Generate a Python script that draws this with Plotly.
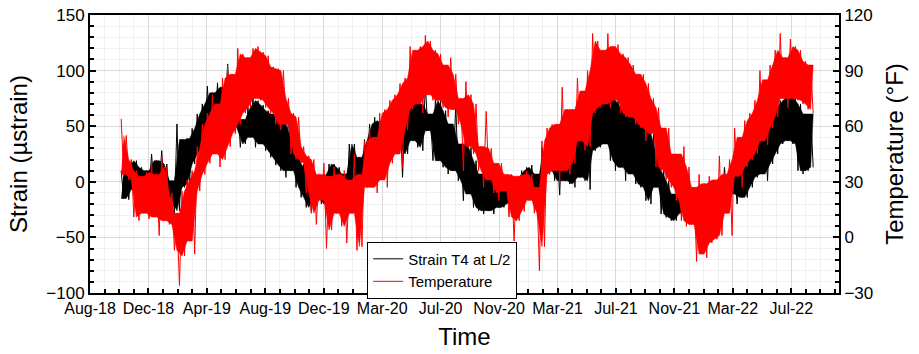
import pandas as pd
import plotly.graph_objects as go

# Record window of the gauge data
START, END = "2018-10-11", "2022-09-01"

# Temperature (°F): upper and lower swing in each ~10-day block
temp_hi = [64, 55, 42, 36, 33, 35, 41, 34, 44, 38, 24, 13, 25, 31, 36, 49, 61, 67, 77, 72,
           86, 93, 88, 102, 99, 97, 102, 103, 100, 98, 92,
           91, 90, 75, 67, 65, 49, 44, 42, 34, 40, 33, 38, 34, 36, 31, 45, 34, 52, 59, 54,
           67, 69, 74, 77, 83, 86, 103, 101, 103, 109, 106, 101, 99, 93, 97, 88, 75,
           84, 77, 72, 49, 68, 48, 40, 40, 34, 34, 33, 34, 36, 34, 27, 52, 59, 61, 61, 81,
           69, 69, 86, 79, 90, 110, 106, 101, 110, 103, 104, 99, 97, 93, 88, 88, 83,
           75, 70, 59, 59, 45, 45, 49, 38, 27, 34, 29, 33, 31, 44, 34, 42, 59, 54, 63, 67,
           74, 90, 85, 93, 101, 110, 97, 107, 103, 101, 95, 93]
temp_lo = [34, 31, 11, 9, 13, 10, 11, 1, 9, 7, -7, -26, -10, -2, -9, 25, 34, 40, 45, 38,
           42, 49, 56, 61, 67, 70, 75, 74, 70, 67, 61,
           58, 61, 45, 42, 40, 24, 13, 7, 20, -6, 4, 13, 6, -3, 13, -7, -5, 27, 27, 24,
           31, 27, 40, 45, 38, 58, 69, 72, 67, 77, 74, 74, 70, 65, 69, 61, 36,
           49, 45, 36, 27, 31, 24, 20, 25, 11, -2, 9, 14, 20, 13, -18, -5, 34, 36, 30, 36,
           34, 40, 52, 47, 49, 67, 70, 72, 70, 74, 67, 65, 65, 61, 59, 52, 56,
           38, 36, 31, 27, 20, 9, 6, 7, -13, -9, -11, -3, -1, 1, 13, 1, 33, 27, 38, 42,
           45, 52, 50, 59, 65, 75, 70, 75, 74, 72, 69, 67]

# Strain T4 at L/2 (µstrain): upper and lower swing in each block
strain_hi = [10, 13, 19, 19, 13, 10, 25, 19, 28, 16, 1, 52, 38, 39, 48, 61, 70, 86, 80, 89,
             85, 106, 79, 73, 56, 67, 76, 73, 69, 64, 61,
             61, 52, 61, 38, 31, 16, 10, 10, 1, 7, 16, 16, 13, 7, 34, 34, 22, 38, 52, 58,
             55, 52, 55, 52, 64, 64, 73, 76, 70, 88, 61, 76, 73, 64, 52, 70, 34,
             52, 31, 19, 7, 13, 22, 1, 4, -2, 1, 4, 10, 13, 15, 7, 31, 38, 40, 31, 52,
             25, 49, 61, 64, 70, 88, 79, 76, 76, 79, 73, 67, 64, 61, 61, 55, 52,
             43, 25, 10, 1, -11, -8, -5, -5, -11, -8, -5, -5, -5, 1, 13, 7, 7, 10, 16, 25,
             31, 52, 49, 58, 67, 73, 76, 79, 76, 70, 61, 61]
strain_lo = [-15, -16, -7, -5, -5, -7, -7, -5, -10, -17, -29, -26, -5, -2, 16, 25, 31, 45, 45, 50,
             61, 60, 46, 31, 34, 40, 31, 34, 28, 22, 15,
             10, 4, 10, -5, -14, -23, -26, -14, -20, -23, -17, -2, -5, -20, -11, -5, 1, 7, 13, 25,
             22, 16, 25, 31, 4, 25, 37, 31, 28, 46, 19, 19, 13, 7, 10, 1, -17,
             -11, -23, -26, -29, -26, -29, -23, -23, -20, -17, -17, -11, -11, -17, -23, -11, 10, 1, -12, 1,
             -2, -5, 4, 1, -7, 28, 31, 34, 19, 10, 13, 1, 7, -2, -5, -17, -20,
             -5, -29, -32, -35, -35, -29, -26, -29, -32, -26, -23, -23, -20, -23, -17, -11, -20, -14, -14, -5,
             4, 7, 1, 16, 25, 34, 37, 34, 10, 7, 10, 13]


def swing(hi, lo):
    """Alternate high and low readings through the record window."""
    vals = [v for pair in zip(hi, lo) for v in pair]
    times = pd.date_range(START, END, periods=len(vals))
    return times, vals


def core(times, hi, lo):
    """Solid body of the trace: the lower of neighbouring highs over the
    higher of neighbouring lows, so single peaks stick out as spikes."""
    t_hi, t_lo = list(times[0::2]), list(times[1::2])
    n = len(hi)
    nxt = lambda i: min(i + 1, n - 1)
    prv = lambda i: max(i - 1, 0)
    bot = [min(max(lo[prv(i)], lo[i]), hi[i]) for i in range(n)]
    top = [max(min(hi[i], hi[nxt(i)]), lo[i], bot[i], bot[nxt(i)]) for i in range(n)]
    return t_lo + t_hi[::-1], top + bot[::-1]


FONT = "Liberation Sans, Arial, sans-serif"
DAY_MS = 86400000

series = [
    ("Strain T4 at L/2", "black", strain_hi, strain_lo, "y"),
    ("Temperature", "#ff0000", temp_hi, temp_lo, "y2"),
]

fig = go.Figure()
for name, color, hi, lo, axis in series:
    times, vals = swing(hi, lo)
    bx, by = core(times, hi, lo)
    fig.add_trace(go.Scatter(x=bx, y=by, mode="lines", fill="toself", fillcolor=color,
                             line=dict(color=color, width=0.5), yaxis=axis,
                             showlegend=False, hoverinfo="skip"))
    fig.add_trace(go.Scatter(x=times, y=vals, mode="lines", name=name,
                             line=dict(color=color, width=1.0), yaxis=axis))

fig.update_layout(
    width=919, height=354,
    margin=dict(l=90, r=80, t=15, b=61),
    paper_bgcolor="white", plot_bgcolor="white",
    font=dict(family=FONT, color="black", size=16),
    showlegend=True,
    legend=dict(x=0.37, y=0.185, xanchor="left", yanchor="top",
                bgcolor="white", bordercolor="black", borderwidth=1,
                font=dict(size=15), tracegroupgap=0),
    xaxis=dict(
        type="date", range=["2018-08-08", "2022-10-24"], automargin=False,
        tick0="2018-08-08", dtick=120 * DAY_MS, tickformat="%b-%y",
        ticks="inside", ticklen=5, tickwidth=1.5, tickcolor="black",
        tickfont=dict(size=16),
        showline=True, linecolor="black", linewidth=2, mirror=True,
        showgrid=True, gridcolor="#d9d9d9", gridwidth=1,
        minor=dict(tick0="2018-08-08", dtick=30 * DAY_MS, ticks="inside", ticklen=4,
                   tickcolor="black", showgrid=True, gridcolor="#f0f0f0"),
        title=dict(text="Time", font=dict(size=24), standoff=12),
    ),
    yaxis=dict(
        range=[-100, 150], dtick=50, tick0=0, automargin=False,
        ticks="inside", ticklen=6, tickwidth=1.5, tickcolor="black",
        tickfont=dict(size=17),
        showline=True, linecolor="black", linewidth=2, mirror=True,
        showgrid=True, gridcolor="#d9d9d9", zeroline=False,
        minor=dict(dtick=10, ticks="inside", ticklen=4, tickcolor="black",
                   showgrid=True, gridcolor="#f0f0f0"),
        title=dict(text="Strain (µstrain)", font=dict(size=24), standoff=12),
    ),
    yaxis2=dict(
        range=[-30, 120], dtick=30, tick0=0, overlaying="y", side="right",
        automargin=False,
        ticks="inside", ticklen=6, tickwidth=1.5, tickcolor="black",
        tickfont=dict(size=17),
        showline=True, linecolor="black", linewidth=2,
        showgrid=False, zeroline=False,
        minor=dict(dtick=6, ticks="inside", ticklen=4, tickcolor="black", showgrid=False),
        title=dict(text="Temperature (°F)", font=dict(size=24), standoff=14),
    ),
)

fig.write_html("out.html")
